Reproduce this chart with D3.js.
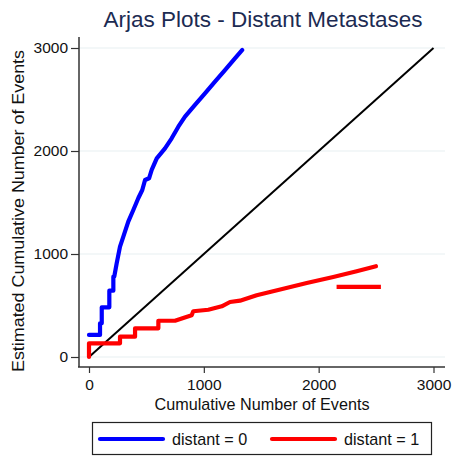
<!DOCTYPE html>
<html>
<head>
<meta charset="utf-8">
<script src="https://cdn.jsdelivr.net/npm/d3@7"></script>
<style>
  html, body { margin: 0; padding: 0; background: #fff; }
  svg { display: block; }
  text { font-family: "Liberation Sans", Arial, sans-serif; }
</style>
</head>
<body>
<svg id="chart" width="454" height="458"></svg>
<script>
// Axis ticks
const xTicks = [0, 1000, 2000, 3000];
const yTicks = [0, 1000, 2000, 3000];

// Legend labels
const seriesLabels = ["distant = 0", "distant = 1"];

// Cumulative number of events (x) vs. estimated cumulative number of events (y)
const distant0X = [0, 96, 96, 111, 111, 177, 177, 212, 212, 220, 241, 270, 299, 342, 386, 429, 464, 488, 523, 546, 590, 662, 720, 778, 836, 923, 1010, 1097, 1184, 1271, 1335];
const distant0Y = [214, 214, 327, 327, 482, 482, 644, 644, 780, 780, 910, 1071, 1168, 1314, 1427, 1541, 1621, 1718, 1735, 1816, 1929, 2026, 2123, 2236, 2333, 2447, 2560, 2673, 2786, 2900, 2981];

const distant1X = [0, 0, 270, 270, 401, 401, 604, 604, 749, 821, 894, 908, 1039, 1156, 1228, 1315, 1460, 1692, 1896, 2127, 2331, 2499];
const distant1Y = [0, 133, 133, 197, 197, 278, 278, 352, 352, 379, 405, 444, 459, 492, 534, 547, 599, 663, 718, 777, 832, 881];

// Short horizontal red segment
const distant1SegX = [2156, 2542];
const distant1SegY = [681, 681];

// Reference line y = x
const refX = [0, 3000];
const refY = [0, 3000];

const svg = d3.select("#chart");

const x = d3.scaleLinear().domain([0, 3000]).range([89, 433.5]);
const y = d3.scaleLinear().domain([0, 3000]).range([357, 48]);

const axisLeftX = 79, axisBottomY = 367;
const plotRight = 445, plotTop = 37;

// Title
svg.append("text")
  .attr("x", 263).attr("y", 27)
  .attr("text-anchor", "middle")
  .attr("font-size", 22.5)
  .attr("fill", "#1c2b52")
  .text("Arjas Plots - Distant Metastases");

// Gridlines
svg.append("g").selectAll("line").data(yTicks).join("line")
  .attr("x1", axisLeftX).attr("x2", plotRight)
  .attr("y1", d => y(d)).attr("y2", d => y(d))
  .attr("stroke", "#e8f0f2").attr("stroke-width", 1.2);

// Y axis
const yAxis = svg.append("g")
  .attr("transform", `translate(${axisLeftX},0)`)
  .call(d3.axisLeft(y).tickValues(yTicks).tickSize(8).tickPadding(3).tickFormat(d3.format("d")));
yAxis.select(".domain").remove();
yAxis.selectAll(".tick line").attr("stroke", "#333").attr("stroke-width", 1.2);
yAxis.selectAll(".tick text").attr("font-size", 15.5).attr("fill", "#111")
  .attr("font-family", "Liberation Sans, Arial, sans-serif");
svg.append("line")
  .attr("x1", axisLeftX).attr("x2", axisLeftX)
  .attr("y1", plotTop).attr("y2", axisBottomY)
  .attr("stroke", "#333").attr("stroke-width", 1.5);

// X axis
const xAxis = svg.append("g")
  .attr("transform", `translate(0,${axisBottomY})`)
  .call(d3.axisBottom(x).tickValues(xTicks).tickSize(6).tickPadding(6).tickFormat(d3.format("d")));
xAxis.select(".domain").remove();
xAxis.selectAll(".tick line").attr("stroke", "#333").attr("stroke-width", 1.2);
xAxis.selectAll(".tick text").attr("font-size", 15.5).attr("fill", "#111")
  .attr("font-family", "Liberation Sans, Arial, sans-serif");
svg.append("line")
  .attr("x1", axisLeftX - 1).attr("x2", plotRight)
  .attr("y1", axisBottomY).attr("y2", axisBottomY)
  .attr("stroke", "#333").attr("stroke-width", 1.5);

// Axis titles
svg.append("text")
  .attr("x", 262).attr("y", 410)
  .attr("text-anchor", "middle")
  .attr("font-size", 16.2)
  .attr("fill", "#111")
  .text("Cumulative Number of Events");

svg.append("text")
  .attr("transform", "translate(24,211) rotate(-90)")
  .attr("text-anchor", "middle")
  .attr("font-size", 16)
  .attr("textLength", 322)
  .attr("lengthAdjust", "spacingAndGlyphs")
  .attr("fill", "#111")
  .text("Estimated Cumulative Number of Events");

// Lines
const line = d3.line().x(d => x(d[0])).y(d => y(d[1]));
const zip = (a, b) => a.map((v, i) => [v, b[i]]);

svg.append("path")
  .datum(zip(refX, refY))
  .attr("d", line)
  .attr("fill", "none").attr("stroke", "#000").attr("stroke-width", 2);

svg.append("path")
  .datum(zip(distant0X, distant0Y))
  .attr("d", line)
  .attr("fill", "none").attr("stroke", "#0000ff").attr("stroke-width", 4.2)
  .attr("stroke-linejoin", "round").attr("stroke-linecap", "round");

svg.append("path")
  .datum(zip(distant1X, distant1Y))
  .attr("d", line)
  .attr("fill", "none").attr("stroke", "#ff0000").attr("stroke-width", 4.2)
  .attr("stroke-linejoin", "round").attr("stroke-linecap", "round");

svg.append("path")
  .datum(zip(distant1SegX, distant1SegY))
  .attr("d", line)
  .attr("fill", "none").attr("stroke", "#ff0000").attr("stroke-width", 4.2);

// Legend
const legend = svg.append("g");
legend.append("rect")
  .attr("x", 92.5).attr("y", 422.5).attr("width", 339).attr("height", 32)
  .attr("fill", "#fff").attr("stroke", "#222").attr("stroke-width", 1.2);
const legendColors = ["#0000ff", "#ff0000"];
const legendX = [100, 272];
seriesLabels.forEach((lab, i) => {
  legend.append("line")
    .attr("x1", legendX[i]).attr("x2", legendX[i] + 63)
    .attr("y1", 439).attr("y2", 439)
    .attr("stroke", legendColors[i]).attr("stroke-width", 4.2)
    .attr("stroke-linecap", "round");
  legend.append("text")
    .attr("x", legendX[i] + 72).attr("y", 444.5)
    .attr("font-size", 16.2).attr("fill", "#111")
    .text(lab);
});
</script>
</body>
</html>
